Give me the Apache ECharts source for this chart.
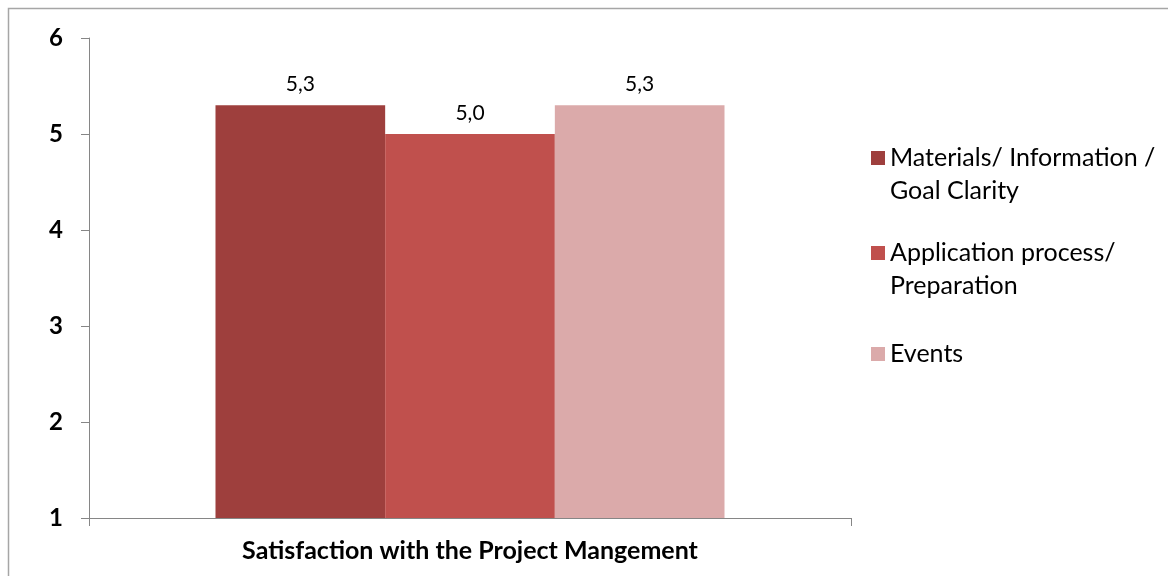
<!DOCTYPE html>
<html><head><meta charset="utf-8">
<script src="https://cdn.jsdelivr.net/npm/echarts@6/dist/echarts.min.js"></script>
<style>html,body{margin:0;padding:0;background:#fff}#c{width:1168px;height:576px}</style>
</head><body><div id="c"></div>
<script>
const categories = ["Satisfaction with the Project Mangement"];
const seriesNames = ["Materials/ Information / Goal Clarity", "Application process/ Preparation", "Events"];
const legendLabels = ["Materials/ Information /\nGoal Clarity", "Application process/\nPreparation", "Events"];
const valuesMaterials = [5.3];
const valuesApplication = [5.0];
const valuesEvents = [5.3];
const yTicks = [1, 2, 3, 4, 5, 6];
const colors = ["#9E3F3D", "#C0504D", "#DBAAAA"];
const FONT = "Lato, 'Open Sans', sans-serif";

// legend icons: square aligned with the first text line
const ICON_TWO_LINE = 'path://M0,0L14,0L14,14L0,14Z M0,46';
const ICON_ONE_LINE = 'path://M0,0 M0,16L14,16L14,30L0,30Z M0,46';

const chart = echarts.init(document.getElementById('c'));
const seriesValues = [valuesMaterials, valuesApplication, valuesEvents];
chart.setOption({
  animation: false,
  textStyle: { fontFamily: FONT },
  graphic: [{ type: 'rect', shape: { x: 8.5, y: 8.5, width: 1180, height: 590 }, style: { fill: 'none', stroke: '#A6A6A6', lineWidth: 1.5 }, silent: true }],
  grid: { left: 89, right: 317, top: 38, bottom: 58 },
  legend: {
    orient: 'vertical', left: 866, top: 136, itemGap: 29,
    itemWidth: 14, itemHeight: 46,
    data: seriesNames.map((n, i) => ({ name: n, icon: legendLabels[i].indexOf('\n') >= 0 ? ICON_TWO_LINE : ICON_ONE_LINE })),
    formatter: n => legendLabels[seriesNames.indexOf(n)],
    textStyle: { fontFamily: FONT, fontSize: 25, color: '#000', lineHeight: 33 }
  },
  xAxis: {
    type: 'category', data: categories,
    axisLine: { lineStyle: { color: '#868686', width: 1 } },
    axisTick: { show: true, length: 8, lineStyle: { color: '#868686' } },
    axisLabel: { margin: 20, fontFamily: FONT, fontSize: 25, fontWeight: 'bold', color: '#000' }
  },
  yAxis: {
    type: 'value', min: yTicks[0], max: yTicks[yTicks.length - 1], interval: 1,
    splitLine: { show: false },
    axisLine: { show: true, lineStyle: { color: '#868686', width: 1 } },
    axisTick: { show: true, length: 8, lineStyle: { color: '#868686' } },
    axisLabel: { margin: 26, fontFamily: FONT, fontSize: 24, fontWeight: 'bold', color: '#000', formatter: v => String(v) }
  },
  series: seriesNames.map((name, i) => ({
    type: 'bar', name, data: seriesValues[i],
    barGap: '0%', barCategoryGap: '33.2%',
    itemStyle: { color: colors[i] },
    label: { show: true, position: 'top', distance: 10, fontFamily: FONT, fontSize: 21, color: '#000',
      formatter: p => p.value.toFixed(1).replace('.', ',') }
  }))
});
</script></body></html>
